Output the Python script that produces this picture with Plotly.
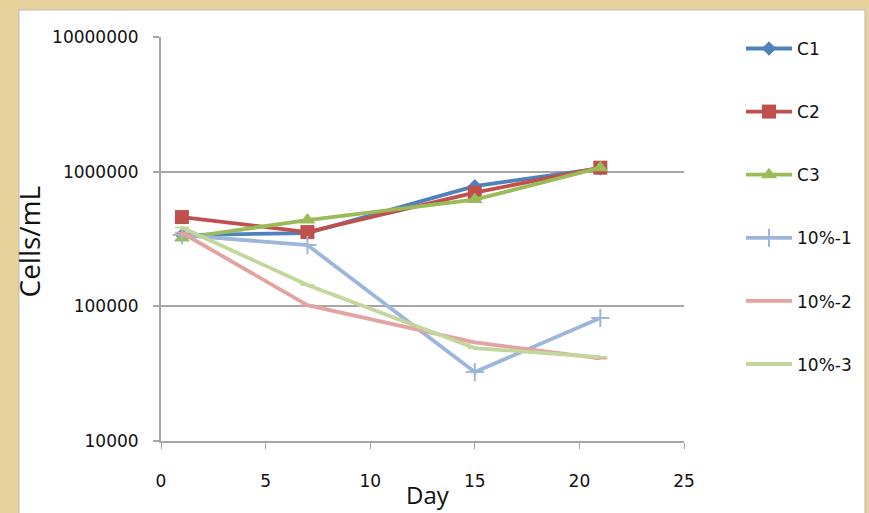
import plotly.graph_objects as go

days = [1, 7, 15, 21]
series_names = ["C1", "C2", "C3", "10%-1", "10%-2", "10%-3"]
c1 = [338000, 350000, 780000, 1060000]
c2 = [460000, 356000, 700000, 1070000]
c3 = [321000, 437000, 620000, 1070000]
p1 = [338000, 285000, 32500, 82000]
p2 = [352000, 102000, 54000, 41000]
p3 = [385000, 144000, 49000, 42000]
x_ticks = [0, 5, 10, 15, 20, 25]
y_ticks = [10000, 100000, 1000000, 10000000]
y_ticklabels = ["10000", "100000", "1000000", "10000000"]

values = [c1, c2, c3, p1, p2, p3]
colors = ["#4F81BD", "#C0504D", "#9BBB59", "#9DB6DB", "#E3A3A1", "#C3D69B"]
symbols = ["diamond", "square", "triangle-up", "cross-thin", "line-ew", "line-ew"]
sizes = [11, 14, 14, 13, 10, 10]

fig = go.Figure()
for i, (name, vals) in enumerate(zip(series_names, values)):
    marker = dict(symbol=symbols[i], size=sizes[i], color=colors[i],
                  line=dict(color=colors[i], width=2 if i >= 3 else 0))
    fig.add_trace(go.Scatter(
        x=days, y=vals, name=name, mode="lines+markers",
        line=dict(color=colors[i], width=3.8),
        marker=marker, legendgroup=name,
    ))

tick_font = "DejaVu Sans, sans-serif"
title_font = "Open Sans, sans-serif"

fig.update_layout(
    width=869, height=513,
    paper_bgcolor="#E8D29C",
    plot_bgcolor="white",
    margin=dict(l=161, r=185, t=37, b=72, autoexpand=False),
    font=dict(family=tick_font, size=17, color="#222"),
    showlegend=True,
    legend=dict(
        x=1.109, xanchor="left", y=1.015, yanchor="top",
        bgcolor="rgba(0,0,0,0)",
        font=dict(family=tick_font, size=17, color="#111"),
        tracegroupgap=38,
        itemwidth=46,
        maxheight=600,
    ),
    shapes=[dict(type="rect", xref="paper", yref="paper",
                 x0=-0.2715, x1=1.346, y0=-0.3, y1=1.0668,
                 fillcolor="white", line=dict(color="#BBBBBB", width=1),
                 layer="below")],
    annotations=[
        dict(text="Cells/mL", xref="paper", yref="paper", x=-0.2515, y=0.495,
             textangle=-90, showarrow=False, xanchor="center", yanchor="middle",
             font=dict(family=title_font, size=28, color="#111")),
        dict(text="Day", xref="paper", yref="paper", x=0.51, y=-0.178,
             showarrow=False, xanchor="center", yanchor="bottom",
             font=dict(family=title_font, size=24, color="#111")),
    ],
)

fig.update_xaxes(
    range=[0, 25], tickvals=x_ticks, showgrid=False, zeroline=False,
    showline=True, linecolor="#A6A6A6", linewidth=2,
    ticks="outside", ticklen=6, tickcolor="#A6A6A6", tickwidth=1,
    ticklabelstandoff=18,
    tickfont=dict(family=tick_font, size=17, color="#111"),
)
fig.update_yaxes(
    type="log", range=[4, 7], tickvals=y_ticks, ticktext=y_ticklabels,
    showgrid=True, gridcolor="#A6A6A6", gridwidth=2, zeroline=False,
    showline=True, linecolor="#A6A6A6", linewidth=2,
    ticks="outside", ticklen=6, tickcolor="#A6A6A6", tickwidth=2,
    ticklabelstandoff=11,
    tickfont=dict(family=tick_font, size=17, color="#111"),
)

fig.write_html("out.html", config={"displayModeBar": False},
               post_script="document.body.style.margin='0';")
